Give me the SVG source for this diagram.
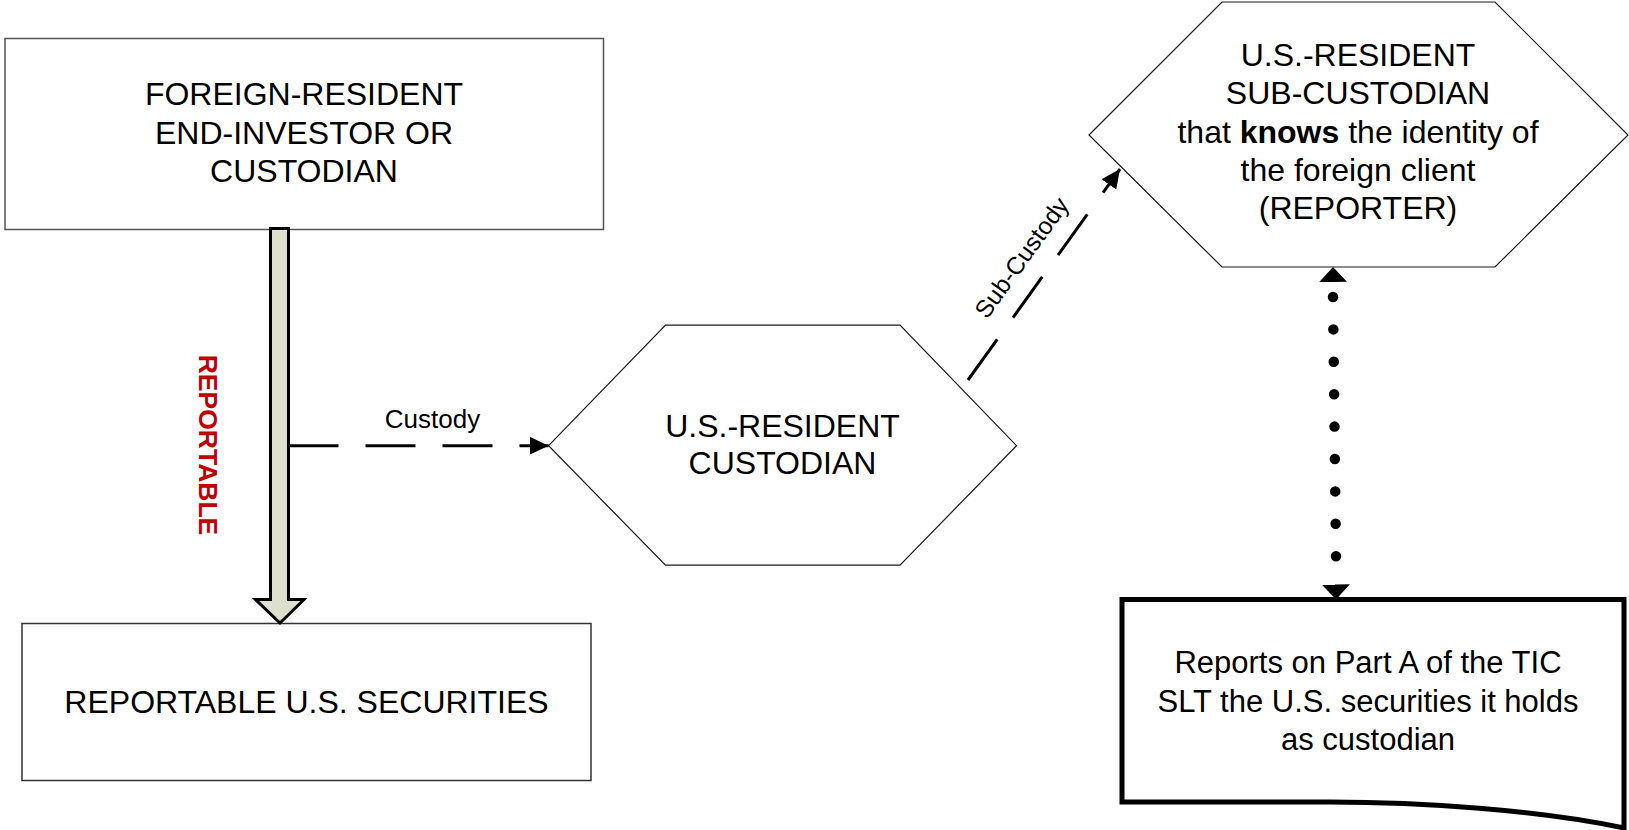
<svg xmlns="http://www.w3.org/2000/svg" width="1629" height="830" viewBox="0 0 1629 830">
  <style>
    .box { fill: #ffffff; stroke: #555555; stroke-width: 1.5; }
    .hex { fill: #ffffff; stroke: #1a1a1a; stroke-width: 1.2; stroke-linejoin: miter; }
    .doc { fill: #ffffff; stroke: #000000; stroke-width: 5; stroke-linejoin: miter; }
    .lbl { font-family: "Liberation Sans", Arial, sans-serif; font-size: 32px; fill: #000000; text-anchor: middle; }
    .doc-lbl { font-size: 31px; }
    .edge-lbl { font-family: "Liberation Sans", Arial, sans-serif; font-size: 26px; fill: #000000; text-anchor: middle; }
    .dash { fill: none; stroke: #000000; stroke-width: 3; stroke-dasharray: 50 27; }
    .dots { fill: none; stroke: #000000; stroke-width: 10.5; stroke-linecap: round; stroke-dasharray: 0 32.4; }
    .block { fill: #dde0cc; stroke: #000000; stroke-width: 3; stroke-linejoin: miter; }
    .red { font-family: "Liberation Sans", Arial, sans-serif; font-size: 26.5px; font-weight: bold; fill: #c00000; text-anchor: middle; }
  </style>
  <defs>
    <marker id="head" markerUnits="userSpaceOnUse" viewBox="0 0 19 18" markerWidth="19" markerHeight="18" refX="19" refY="9" orient="auto">
      <path d="M0,0 L19,9 L0,18 z" fill="#000000"/>
    </marker>
    <marker id="head-wide" markerUnits="userSpaceOnUse" viewBox="0 0 15 28" markerWidth="15" markerHeight="28" refX="15" refY="14" orient="auto-start-reverse">
      <path d="M0,0 L15,14 L0,28 z" fill="#000000"/>
    </marker>
  </defs>

  <!-- nodes -->
  <g id="foreign-investor">
    <rect class="box" x="5" y="38.5" width="598.5" height="191"/>
    <text class="lbl" x="304" y="105">FOREIGN-RESIDENT</text>
    <text class="lbl" x="304" y="143.5">END-INVESTOR OR</text>
    <text class="lbl" x="304" y="182">CUSTODIAN</text>
  </g>

  <g id="reportable-securities">
    <rect class="box" x="22" y="623.5" width="569" height="157" style="stroke:#333333"/>
    <text class="lbl" x="306.5" y="712.5">REPORTABLE U.S. SECURITIES</text>
  </g>

  <g id="us-custodian">
    <polygon class="hex" points="548.6,445.7 665.5,325.2 900,325.2 1016.5,445.7 900,565.2 665.5,565.2"/>
    <text class="lbl" x="782.5" y="436.5">U.S.-RESIDENT</text>
    <text class="lbl" x="782.5" y="473.5">CUSTODIAN</text>
  </g>

  <g id="us-sub-custodian">
    <polygon class="hex" points="1089,135 1222,2 1495,2 1628,135 1495,267 1222,267"/>
    <text class="lbl" x="1358" y="66">U.S.-RESIDENT</text>
    <text class="lbl" x="1358" y="104.3">SUB-CUSTODIAN</text>
    <text class="lbl" x="1358" y="142.6">that <tspan font-weight="bold">knows</tspan> the identity of</text>
    <text class="lbl" x="1358" y="180.9">the foreign client</text>
    <text class="lbl" x="1358" y="219.2">(REPORTER)</text>
  </g>

  <g id="report-document">
    <path class="doc" d="M1122,599.5 H1624 V828 C1540,810 1420,802 1330,802 H1122 Z"/>
    <text class="lbl doc-lbl" x="1368" y="673">Reports on Part A of the TIC</text>
    <text class="lbl doc-lbl" x="1368" y="711.5">SLT the U.S. securities it holds</text>
    <text class="lbl doc-lbl" x="1368" y="750">as custodian</text>
  </g>

  <!-- connectors -->
  <g id="connectors">
    <!-- reportable flow: block arrow from investor to securities -->
    <path class="block" d="M270.5,228.5 V599.5 H255.5 L280,623 L304,599.5 H288.5 V228.5 Z"/>
    <text class="red" transform="translate(208.5,445) rotate(90)" x="0" y="9.5">REPORTABLE</text>

    <!-- custody -->
    <line class="dash" x1="288.5" y1="445.7" x2="548.6" y2="445.7" marker-end="url(#head)"/>
    <text class="edge-lbl" x="432.5" y="428">Custody</text>

    <!-- sub-custody -->
    <line class="dash" x1="968" y1="380" x2="1120" y2="169" marker-end="url(#head)"/>
    <text class="edge-lbl" transform="translate(1021.5,257.5) rotate(-54.2)" x="0" y="8.5" style="font-size:24.5px">Sub-Custody</text>

    <!-- reporting link between sub-custodian and report -->
    <line class="dots" x1="1333" y1="297" x2="1336" y2="556.2"/>
    <line x1="1333" y1="267" x2="1336" y2="599.5" stroke="none" marker-start="url(#head-wide)" marker-end="url(#head-wide)"/>
  </g>
</svg>
